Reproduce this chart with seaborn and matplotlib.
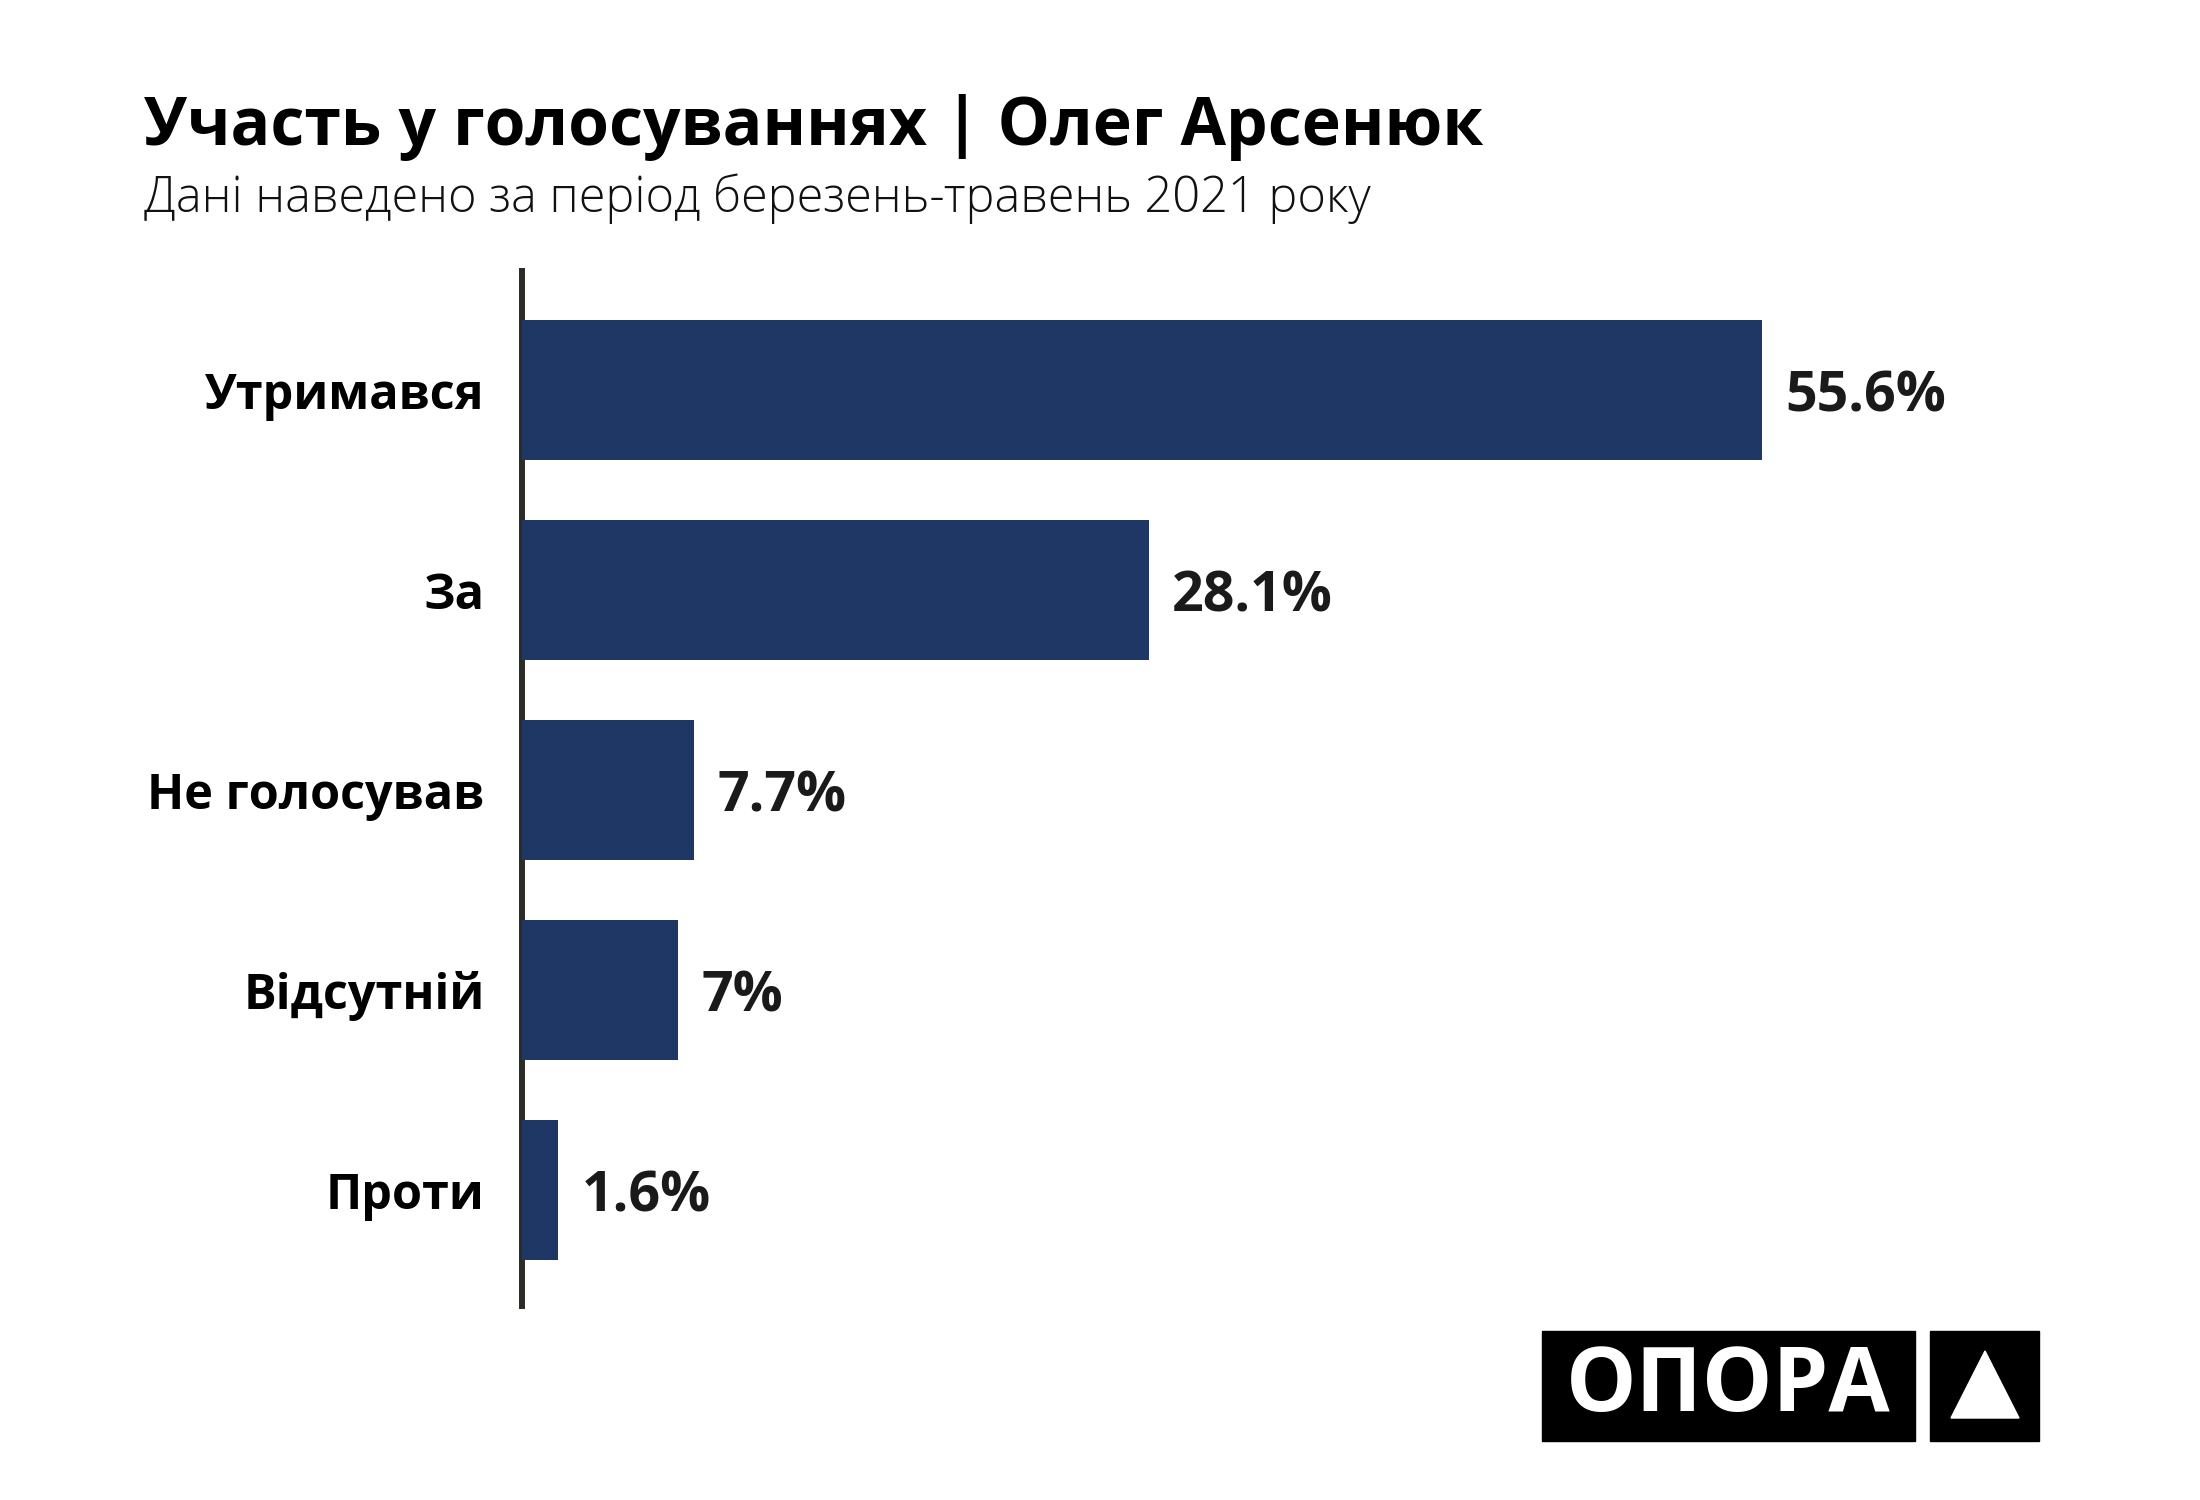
import matplotlib
matplotlib.use("Agg")
import matplotlib.pyplot as plt
import seaborn as sns
import pandas as pd
from matplotlib.patches import Rectangle, Polygon

categories = ["Утримався", "За", "Не голосував", "Відсутній", "Проти"]
shares = [55.6, 28.1, 7.7, 7.0, 1.6]
value_labels = [f"{v:g}%" for v in shares]

title = "Участь у голосуваннях | Олег Арсенюк"
subtitle = "Дані наведено за період березень-травень 2021 року"

sns.set_theme(style="white")
plt.rcParams["font.family"] = ["Open Sans", "DejaVu Sans"]

df = pd.DataFrame({"cat": categories, "share": shares})

fig = plt.figure(figsize=(22, 15), dpi=100)
ax = fig.add_axes([0.2373, 0.1293, 0.69, 0.69])

sns.barplot(data=df, x="share", y="cat", orient="h", color="#1e3765",
            width=0.7, saturation=1, linewidth=0, ax=ax)

ax.set_xlim(0, 68.07)
ax.set_ylim(4.58, -0.595)
ax.set_xlabel("")
ax.set_ylabel("")
ax.set_xticks([])
for s in ["top", "right", "bottom"]:
    ax.spines[s].set_visible(False)
ax.spines["left"].set_color("#2b2c27")
ax.spines["left"].set_linewidth(4.3)
ax.spines["left"].set_zorder(0.5)
ax.tick_params(axis="y", length=0, pad=27)
for lab in ax.get_yticklabels():
    lab.set_fontsize(35)
    lab.set_fontweight("bold")
    lab.set_color("#000000")

texts = ax.bar_label(ax.containers[0], labels=value_labels, padding=17,
                     fontsize=40, fontweight="bold", color="#1a1a1a")
for t in texts:
    t.set_va("center_baseline")

fig.text(144 / 2200, 1 - 145 / 1500, title, fontsize=47.5, fontweight="bold",
         color="#000000", ha="left", va="baseline")
fig.text(144 / 2200, 1 - 212 / 1500, subtitle, fontsize=35, fontweight="light",
         color="#111111", ha="left", va="baseline")

# logo
W, H = 2200, 1500
fig.patches.append(Rectangle((1542 / W, 1 - 1441 / H), (1915 - 1542) / W, 110 / H,
                             transform=fig.transFigure, color="black", zorder=5))
fig.patches.append(Rectangle((1930 / W, 1 - 1441 / H), (2039 - 1930) / W, 110 / H,
                             transform=fig.transFigure, color="black", zorder=5))
fig.patches.append(Polygon([(1951 / W, 1 - 1418 / H), (2019 / W, 1 - 1418 / H),
                            (1985 / W, 1 - 1351 / H)], closed=True,
                           transform=fig.transFigure, color="white", zorder=6))
fig.text((1542 + 1915) / 2 / W, 1 - 1388 / H, "ОПОРА", fontsize=64,
         fontweight="bold", color="white", ha="center", va="center", zorder=7)

fig.savefig("out.png", dpi=100, facecolor="white")
